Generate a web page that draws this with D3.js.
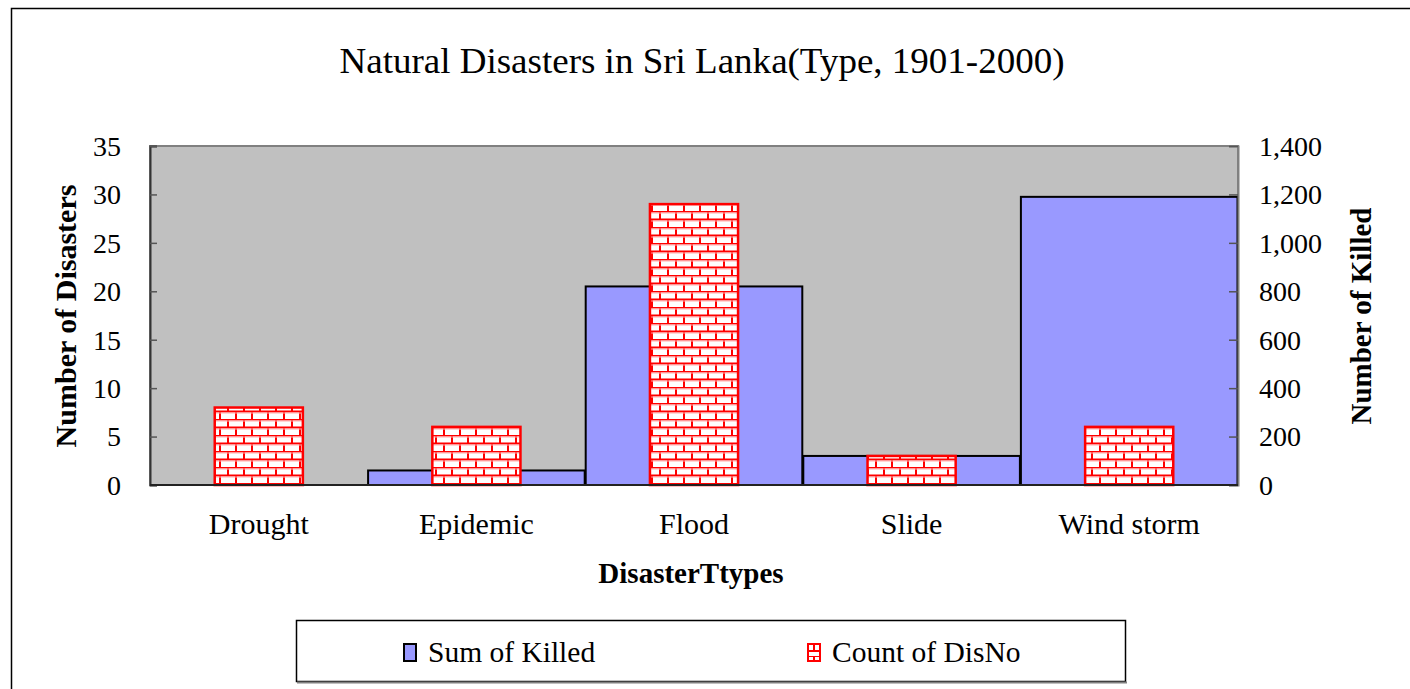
<!DOCTYPE html>
<html>
<head>
<meta charset="utf-8">
<script src="https://cdn.jsdelivr.net/npm/d3@7"></script>
<style>
	html, body { margin: 0; padding: 0; background: #fff; overflow: hidden; }
	svg { display: block; font-family: 'Liberation Serif', 'DejaVu Serif', serif; }
</style>
</head>
<body>
<div id="canvas"></div>
<script>
/* global d3 */

// Data
var categories = ['Drought', 'Epidemic', 'Flood', 'Slide', 'Wind storm'],
	killed = [0, 60, 820, 120, 1190],
	disasters = [8, 6, 29, 3, 6],
	leftTicks = [0, 5, 10, 15, 20, 25, 30, 35],
	rightTicks = [0, 200, 400, 600, 800, 1000, 1200, 1400],
	seriesNames = ['Sum of Killed', 'Count of DisNo'];

// UI
var width = 1410,
	height = 689,
	plot = { left: 150, right: 1238, top: 146, bottom: 485 },
	blue = '#9999FF',
	brickRed = '#FF0000';

var svg = d3.select('#canvas').append('svg')
	.attr('width', width)
	.attr('height', height);

// Brick pattern for the count bars
var defs = svg.append('defs');
var brick = defs.append('pattern')
	.attr('id', 'brick')
	.attr('patternUnits', 'userSpaceOnUse')
	.attr('width', 16)
	.attr('height', 16)
	.attr('x', 0)
	.attr('y', 3);
brick.append('rect').attr('width', 16).attr('height', 16).attr('fill', '#fff');
brick.append('path')
	.attr('d', 'M0,0.5H16M0,8.5H16M4,0V8M12,8V16')
	.attr('stroke', brickRed)
	.attr('stroke-width', 2)
	.attr('fill', 'none');
brick.append('path')
	.attr('d', 'M0,2H16M0,10H16')
	.attr('stroke', '#ffb0b0')
	.attr('stroke-width', 1)
	.attr('fill', 'none');

var legendBrick = defs.append('pattern')
	.attr('id', 'brick-small')
	.attr('patternUnits', 'userSpaceOnUse')
	.attr('width', 12)
	.attr('height', 12)
	.attr('x', 808)
	.attr('y', 644);
legendBrick.append('rect').attr('width', 12).attr('height', 12).attr('fill', '#fff');
legendBrick.append('path')
	.attr('d', 'M0,0H12M0,7H12M6,0V7')
	.attr('stroke', brickRed)
	.attr('stroke-width', 2)
	.attr('fill', 'none');

// Outer border
svg.append('rect')
	.attr('x', 11.5).attr('y', 8.5)
	.attr('width', 1450).attr('height', 700)
	.attr('fill', '#fff')
	.attr('stroke', '#000')
	.attr('stroke-width', 1.5);

// Scales
var xScale = d3.scaleBand()
		.domain(categories)
		.range([plot.left, plot.right])
		.padding(0),
	yLeft = d3.scaleLinear().domain([0, 35]).range([plot.bottom, plot.top]),
	yRight = d3.scaleLinear().domain([0, 1400]).range([plot.bottom, plot.top]);

// Plot background
svg.append('rect')
	.attr('x', plot.left).attr('y', plot.top)
	.attr('width', plot.right - plot.left)
	.attr('height', plot.bottom - plot.top)
	.attr('fill', '#C0C0C0')
	.attr('stroke', '#808080')
	.attr('stroke-width', 2);

// Killed bars (right axis), full band width
var killedData = categories.map(function(c, i) {
	return { cat: c, value: killed[i] };
}).filter(function(d) { return d.value > 0; });

svg.append('g').selectAll('rect')
	.data(killedData)
	.enter().append('rect')
	.attr('x', function(d) { return xScale(d.cat) + 0.5; })
	.attr('width', xScale.bandwidth() - 1)
	.attr('y', function(d) { return yRight(d.value); })
	.attr('height', function(d) { return yRight(0) - yRight(d.value); })
	.attr('fill', blue)
	.attr('stroke', '#000')
	.attr('stroke-width', 2);

// Count bars (left axis), brick pattern
var barW = xScale.bandwidth() * 0.405;
svg.append('g').selectAll('rect')
	.data(categories.map(function(c, i) { return { cat: c, value: disasters[i] }; }))
	.enter().append('rect')
	.attr('x', function(d) { return xScale(d.cat) + (xScale.bandwidth() - barW) / 2; })
	.attr('width', barW)
	.attr('y', function(d) { return yLeft(d.value); })
	.attr('height', function(d) { return yLeft(0) - yLeft(d.value); })
	.attr('fill', 'url(#brick)')
	.attr('stroke', brickRed)
	.attr('stroke-width', 2.5);

// Axes
var gLeft = svg.append('g')
	.attr('transform', 'translate(' + plot.left + ',0)')
	.call(d3.axisRight(yLeft).tickValues(leftTicks).tickSize(7).tickFormat(''));
gLeft.select('.domain').attr('stroke', '#333').attr('stroke-width', 2);
gLeft.selectAll('.tick line').attr('stroke', '#555').attr('stroke-width', 1.5);

var gRight = svg.append('g')
	.attr('transform', 'translate(' + plot.right + ',0)')
	.call(d3.axisLeft(yRight).tickValues(rightTicks).tickSize(9).tickFormat(''));
gRight.select('.domain').attr('stroke', '#808080').attr('stroke-width', 2);
gRight.selectAll('.tick line').attr('stroke', '#555').attr('stroke-width', 1.5);

svg.append('line')
	.attr('x1', plot.left).attr('x2', plot.right)
	.attr('y1', plot.bottom).attr('y2', plot.bottom)
	.attr('stroke', '#222')
	.attr('stroke-width', 2);

// Tick labels
svg.append('g').selectAll('text')
	.data(leftTicks)
	.enter().append('text')
	.attr('x', 121)
	.attr('y', function(d) { return yLeft(d); })
	.attr('dy', '0.35em')
	.attr('text-anchor', 'end')
	.attr('font-size', 28)
	.text(function(d) { return d; });

svg.append('g').selectAll('text')
	.data(rightTicks)
	.enter().append('text')
	.attr('x', 1259)
	.attr('y', function(d) { return yRight(d); })
	.attr('dy', '0.35em')
	.attr('text-anchor', 'start')
	.attr('font-size', 28)
	.text(function(d) { return d3.format(',')(d); });

svg.append('g').selectAll('text')
	.data(categories)
	.enter().append('text')
	.attr('x', function(d) { return xScale(d) + xScale.bandwidth() / 2; })
	.attr('y', 534)
	.attr('text-anchor', 'middle')
	.attr('font-size', 30)
	.text(function(d) { return d; });

// Titles
svg.append('text')
	.attr('x', 702).attr('y', 73)
	.attr('text-anchor', 'middle')
	.attr('font-size', 36)
	.attr('textLength', 725)
	.attr('lengthAdjust', 'spacingAndGlyphs')
	.text('Natural Disasters in Sri Lanka(Type, 1901-2000)');

svg.append('text')
	.attr('x', 691).attr('y', 583)
	.attr('text-anchor', 'middle')
	.attr('font-size', 29)
	.attr('font-weight', 'bold')
	.text('DisasterTtypes');

svg.append('text')
	.attr('transform', 'translate(76,316) rotate(-90)')
	.attr('text-anchor', 'middle')
	.attr('font-size', 30)
	.attr('font-weight', 'bold')
	.text('Number of Disasters');

svg.append('text')
	.attr('transform', 'translate(1371,316) rotate(-90)')
	.attr('text-anchor', 'middle')
	.attr('font-size', 29)
	.attr('font-weight', 'bold')
	.text('Number of Killed');

// Legend
var legend = svg.append('g');
legend.append('rect')
	.attr('x', 296.5).attr('y', 620.5)
	.attr('width', 829).attr('height', 61)
	.attr('fill', '#fff')
	.attr('stroke', '#000')
	.attr('stroke-width', 1.5);
legend.append('line')
	.attr('x1', 297).attr('x2', 1127)
	.attr('y1', 682.5).attr('y2', 682.5)
	.attr('stroke', '#808080')
	.attr('stroke-width', 2);

var legendItems = [
	{ name: seriesNames[0], x: 404, fill: blue, stroke: '#000' },
	{ name: seriesNames[1], x: 808, fill: 'url(#brick-small)', stroke: brickRed }
];
var li = legend.selectAll('g.item')
	.data(legendItems)
	.enter().append('g')
	.attr('class', 'item');
li.append('rect')
	.attr('x', function(d) { return d.x; })
	.attr('y', 644)
	.attr('width', 12)
	.attr('height', 17)
	.attr('fill', function(d) { return d.fill; })
	.attr('stroke', function(d) { return d.stroke; })
	.attr('stroke-width', 2);
li.append('text')
	.attr('x', function(d) { return d.x + 24; })
	.attr('y', 662)
	.attr('font-size', 29.5)
	.text(function(d) { return d.name; });
</script>
</body>
</html>
